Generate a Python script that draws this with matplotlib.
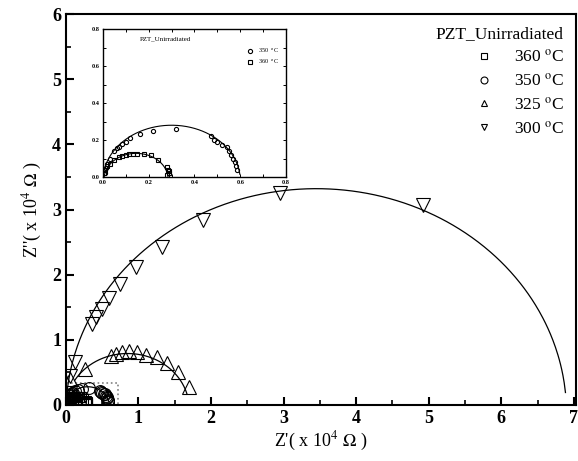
import numpy as np
import matplotlib
matplotlib.use("Agg")
import matplotlib.pyplot as plt
from matplotlib.patches import Rectangle

plt.rcParams['font.family'] = ['Liberation Serif', 'DejaVu Serif']
plt.rcParams['mathtext.fontset'] = 'stix'

# data, Z' and Z'' in units of 1e4 ohm
z1_360 = [0.005, 0.01, 0.02, 0.03, 0.05, 0.07, 0.085, 0.10, 0.115, 0.13, 0.15, 0.18,
          0.21, 0.24, 0.28, 0.285, 0.29, 0.29, 0.28]
z2_360 = [0.02, 0.04, 0.06, 0.07, 0.09, 0.11, 0.115, 0.12, 0.125, 0.125, 0.125, 0.125,
          0.12, 0.09, 0.055, 0.04, 0.03, 0.02, 0.01]

z1_350 = [0.01, 0.015, 0.02, 0.03, 0.05, 0.06, 0.07, 0.085, 0.10, 0.12, 0.16, 0.22, 0.32,
          0.47, 0.485, 0.50, 0.52, 0.54, 0.55, 0.56, 0.57, 0.575, 0.58, 0.585]
z2_350 = [0.02, 0.05, 0.07, 0.10, 0.14, 0.155, 0.165, 0.18, 0.19, 0.21, 0.23, 0.25, 0.26,
          0.22, 0.20, 0.19, 0.175, 0.165, 0.14, 0.12, 0.10, 0.08, 0.06, 0.04]

z1_325 = [0.06, 0.26, 0.62, 0.69, 0.77, 0.87, 0.98, 1.10, 1.25, 1.40, 1.55, 1.69]
z2_325 = [0.40, 0.55, 0.75, 0.79, 0.82, 0.83, 0.81, 0.77, 0.73, 0.64, 0.50, 0.27]

z1_300 = [0.06, 0.12, 0.36, 0.42, 0.50, 0.59, 0.75, 0.97, 1.32, 1.89, 2.95, 4.92]
z2_300 = [0.44, 0.66, 1.24, 1.35, 1.47, 1.64, 1.86, 2.12, 2.42, 2.84, 3.25, 3.07]

# circle fits: centre x, depression below axis, radius, x range drawn
fit_360 = (0.145, 0.012, 0.14, 0.005, 0.285)
fit_350 = (0.30, 0.02, 0.30, 0.005, 0.598)
fit_325 = (0.85, 0.06, 0.85, 0.12, 1.67)
fit_300 = (3.45, 0.13, 3.45, 0.02, 6.885)

labels = ['360 $^{\\mathrm{o}}$C', '350 $^{\\mathrm{o}}$C',
          '325 $^{\\mathrm{o}}$C', '300 $^{\\mathrm{o}}$C']


def arc(p):
    xc, d, r, x0, x1 = p
    x = np.linspace(x0, x1, 400)
    y = np.sqrt(np.clip(r**2 - (x - xc)**2, 0, None)) - d
    return x, y


fig = plt.figure(figsize=(5.78, 4.61), dpi=100)
ax = fig.add_axes([0.114, 0.1215, 0.8825, 0.848])

mk = dict(ls='none', mfc='none', mec='black', mew=0.8)
ax.plot(z1_360, z2_360, marker='s', ms=7, **mk)
ax.plot(z1_350, z2_350, marker='o', ms=8.5, **mk)
ax.plot(z1_325, z2_325, marker='^', ms=9.5, **mk)
ax.plot(z1_300, z2_300, marker='v', ms=9.5, **mk)
for p in [fit_360, fit_350, fit_325, fit_300]:
    ax.plot(*arc(p), color='black', lw=0.9)

ax.add_patch(Rectangle((0, 0), 0.72, 0.33, fill=False, ls=':', ec='gray', lw=1.2))

# legend with small markers
hs = [ax.plot([], [], marker=m, ms=5, **mk)[0] for m in ['s', 'o', '^', 'v']]
leg = ax.legend(hs, labels, title='PZT_Unirradiated', loc='upper right',
                frameon=False, fontsize=12.5, title_fontsize=12.5,
                handlelength=1.0, handletextpad=1.2, labelspacing=0.4,
                borderaxespad=0.3)
leg._legend_box.align = 'right'

ax.set_xlim(0, 7.03)
ax.set_ylim(0, 6)
ax.set_xticks(np.arange(0, 8, 1))
ax.set_yticks(np.arange(0, 7, 1))
ax.set_xticks(np.arange(0.5, 7, 1), minor=True)
ax.set_yticks(np.arange(0.5, 6, 1), minor=True)
ax.tick_params(direction='in', which='major', length=6, width=1.5, labelsize=13)
ax.tick_params(direction='in', which='minor', length=3.5, width=1.2)
for t in ax.get_xticklabels() + ax.get_yticklabels():
    t.set_fontweight('bold')
for s in ax.spines.values():
    s.set_linewidth(1.5)
ax.set_xlabel("Z'( x 10$^{4}$ $\\Omega$ )", fontsize=13, labelpad=2)
ax.set_ylabel("Z''( x 10$^{4}$ $\\Omega$ )", fontsize=13, labelpad=6)

# inset
ins = fig.add_axes([0.178, 0.616, 0.317, 0.321])
ins.plot(z1_350, z2_350, marker='o', ms=3, **mk)
ins.plot(z1_360, z2_360, marker='s', ms=3, **mk)
for p in [fit_350, fit_360]:
    ins.plot(*arc(p), color='black', lw=0.8)
ins.set_xlim(0, 0.8)
ins.set_ylim(0, 0.8)
ins.set_xticks(np.arange(0, 0.81, 0.2))
ins.set_yticks(np.arange(0, 0.81, 0.2))
ins.set_xticks(np.arange(0.1, 0.8, 0.2), minor=True)
ins.set_yticks(np.arange(0.1, 0.8, 0.2), minor=True)
ins.tick_params(direction='in', which='both', top=True, right=True, labelsize=4.5,
                length=2.5, width=0.7, pad=2)
for t in ins.get_xticklabels() + ins.get_yticklabels():
    t.set_fontweight('bold')
for s in ins.spines.values():
    s.set_linewidth(1.0)
ins.text(0.2, 0.95, 'PZT_Unirradiated', transform=ins.transAxes, fontsize=5, va='top')
ih = [ins.plot([], [], marker=m, ms=3, **mk)[0] for m in ['o', 's']]
ins.legend(ih, ['350  $^{\\mathrm{o}}$C', '360  $^{\\mathrm{o}}$C'], loc='upper right',
           frameon=False, fontsize=4.5, handlelength=0.8, handletextpad=0.8,
           labelspacing=0.4, bbox_to_anchor=(0.99, 0.92))

fig.savefig('out.png', dpi=100)
